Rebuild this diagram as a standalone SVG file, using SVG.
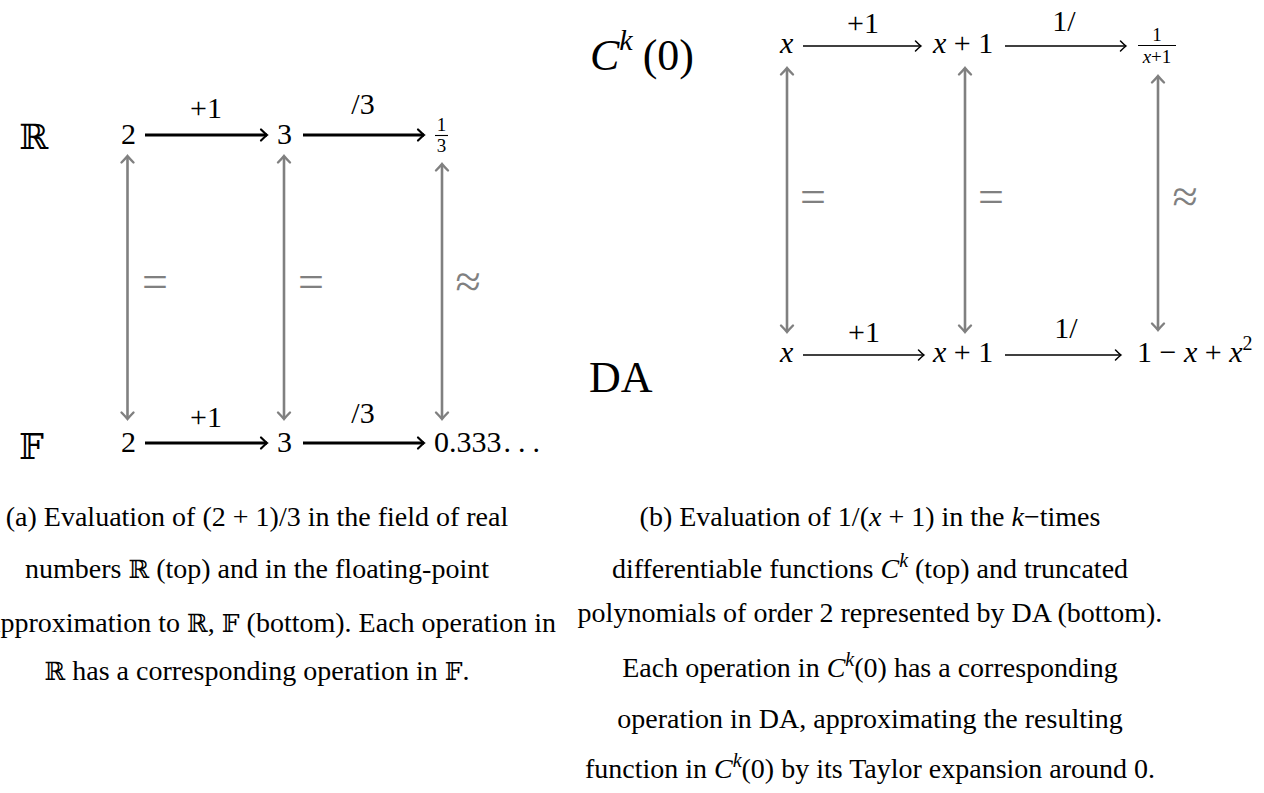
<svg xmlns="http://www.w3.org/2000/svg" width="1264" height="793" viewBox="0 0 1264 793">
<style>
text{font-family:"Liberation Serif","Times New Roman",serif;fill:#000}
.n{font-size:30px}
.lb{font-size:30px}
.fr{font-size:19px}
.it{font-style:italic}
.bb{font-family:"DejaVu Serif","DejaVu Sans",serif}
.g{fill:#808080;font-size:46px}
.cap{font-size:28px}
.big{font-size:44px}
.ka{stroke:#000;stroke-width:2.8;fill:none}
.kb{stroke:#000;stroke-width:1.7;fill:none}
.gv{stroke:#808080;stroke-width:2.6;fill:none}
.bar{stroke:#000;stroke-width:1.1}
</style>
<defs>
<marker id="mA" markerUnits="userSpaceOnUse" viewBox="-10 -10 12 20" refX="0" refY="0" markerWidth="12" markerHeight="20" orient="auto-start-reverse" overflow="visible">
<path d="M-6,-5.5 Q-2,-1.6 0,0 Q-2,1.6 -6,5.5" fill="none" stroke="#000" stroke-width="2.2" stroke-linecap="round"/>
</marker>
<marker id="mB" markerUnits="userSpaceOnUse" viewBox="-10 -10 12 20" refX="0" refY="0" markerWidth="12" markerHeight="20" orient="auto-start-reverse" overflow="visible">
<path d="M-5.5,-5 Q-2,-1.4 0,0 Q-2,1.4 -5.5,5" fill="none" stroke="#000" stroke-width="1.5" stroke-linecap="round"/>
</marker>
<marker id="mG" markerUnits="userSpaceOnUse" viewBox="-10 -10 12 20" refX="0" refY="0" markerWidth="12" markerHeight="20" orient="auto-start-reverse" overflow="visible">
<path d="M-6.5,-6 Q-2.2,-1.8 0,0 Q-2.2,1.8 -6.5,6" fill="none" stroke="#808080" stroke-width="2.4" stroke-linecap="round"/>
</marker>
</defs>
<rect width="1264" height="793" fill="#fff"/>

<!-- connectors -->
<g id="connectors">
<line class="ka" x1="145" y1="135" x2="267" y2="135" marker-end="url(#mA)"/>
<line class="ka" x1="303" y1="135" x2="424" y2="135" marker-end="url(#mA)"/>
<line class="ka" x1="145" y1="443" x2="267" y2="443" marker-end="url(#mA)"/>
<line class="ka" x1="303" y1="443" x2="424" y2="443" marker-end="url(#mA)"/>
<line class="gv" x1="127.5" y1="156" x2="127.5" y2="419" marker-start="url(#mG)" marker-end="url(#mG)"/>
<line class="gv" x1="284" y1="156" x2="284" y2="419" marker-start="url(#mG)" marker-end="url(#mG)"/>
<line class="gv" x1="442" y1="164" x2="442" y2="419" marker-start="url(#mG)" marker-end="url(#mG)"/>

<line class="kb" x1="803" y1="46" x2="921" y2="46" marker-end="url(#mB)"/>
<line class="kb" x1="1005" y1="46" x2="1126" y2="46" marker-end="url(#mB)"/>
<line class="kb" x1="803" y1="355" x2="924" y2="355" marker-end="url(#mB)"/>
<line class="kb" x1="1005" y1="355" x2="1121" y2="355" marker-end="url(#mB)"/>
<line class="gv" x1="787" y1="68" x2="787" y2="332" marker-start="url(#mG)" marker-end="url(#mG)"/>
<line class="gv" x1="965" y1="68" x2="965" y2="332" marker-start="url(#mG)" marker-end="url(#mG)"/>
<line class="gv" x1="1158" y1="76" x2="1158" y2="330" marker-start="url(#mG)" marker-end="url(#mG)"/>
</g>

<!-- left diagram -->
<g id="R-label"><text class="bb" x="19" y="149" font-size="35">ℝ</text></g>
<g id="F-label"><text class="bb" x="19" y="459" font-size="35">𝔽</text></g>
<g id="a-2top"><text class="n" x="121" y="144">2</text></g>
<g id="a-3top"><text class="n" x="277" y="144">3</text></g>
<g id="a-third"><text class="fr" x="441.5" y="131" text-anchor="middle">1</text><line class="bar" x1="435" y1="135.5" x2="448" y2="135.5"/><text class="fr" x="441.5" y="152" text-anchor="middle">3</text></g>
<g id="a-2bot"><text class="n" x="121" y="452">2</text></g>
<g id="a-3bot"><text class="n" x="277" y="452">3</text></g>
<g id="a-0333"><text class="n" x="434" y="452">0.333<tspan dx="2" letter-spacing="7">...</tspan></text></g>
<g id="a-lab1"><text class="lb" x="206" y="118" text-anchor="middle">+1</text></g>
<g id="a-lab2"><text class="lb" x="363" y="114" text-anchor="middle">/3</text></g>
<g id="a-lab3"><text class="lb" x="206" y="427" text-anchor="middle">+1</text></g>
<g id="a-lab4"><text class="lb" x="363" y="423" text-anchor="middle">/3</text></g>
<g id="a-eq1"><text class="g" x="155" y="297" text-anchor="middle">=</text></g>
<g id="a-eq2"><text class="g" x="311" y="297" text-anchor="middle">=</text></g>
<g id="a-approx"><text class="g" x="468" y="297" text-anchor="middle">≈</text></g>

<!-- right diagram -->
<g id="Ck-label"><text class="big" x="590" y="70"><tspan class="it">C</tspan><tspan class="it" font-size="30" dy="-20">k</tspan><tspan dy="20" dx="10">(0)</tspan></text></g>
<g id="DA-label"><text class="big" x="589" y="392" font-size="50">DA</text></g>
<g id="b-xtop"><text class="n it" x="780" y="53">x</text></g>
<g id="b-x1top"><text class="n" x="933" y="53"><tspan class="it">x</tspan> + 1</text></g>
<g id="b-frac"><text class="fr" x="1157" y="41" text-anchor="middle">1</text><line class="bar" x1="1138" y1="45.5" x2="1176" y2="45.5"/><text class="fr" x="1157" y="63" text-anchor="middle"><tspan class="it">x</tspan>+1</text></g>
<g id="b-xbot"><text class="n it" x="780" y="362">x</text></g>
<g id="b-x1bot"><text class="n" x="933" y="362"><tspan class="it">x</tspan> + 1</text></g>
<g id="b-poly"><text class="n" x="1137" y="362">1 − <tspan class="it">x</tspan> + <tspan class="it">x</tspan><tspan font-size="20" dy="-12">2</tspan></text></g>
<g id="b-lab1"><text class="lb" x="863" y="33" text-anchor="middle">+1</text></g>
<g id="b-lab2"><text class="lb" x="1064" y="31" text-anchor="middle">1/</text></g>
<g id="b-lab3"><text class="lb" x="864" y="342" text-anchor="middle">+1</text></g>
<g id="b-lab4"><text class="lb" x="1066" y="338" text-anchor="middle">1/</text></g>
<g id="b-eq1"><text class="g" x="813" y="212" text-anchor="middle">=</text></g>
<g id="b-eq2"><text class="g" x="991" y="212" text-anchor="middle">=</text></g>
<g id="b-approx"><text class="g" x="1185" y="212" text-anchor="middle">≈</text></g>

<!-- captions -->
<g id="caption-a">
<text class="cap" x="257" y="526" text-anchor="middle">(a) Evaluation of (2 + 1)/3 in the field of real</text>
<text class="cap" x="257" y="578" text-anchor="middle">numbers <tspan class="bb" font-size="25">ℝ</tspan> (top) and in the floating-point</text>
<text class="cap" x="-12" y="632">approximation to <tspan class="bb" font-size="25">ℝ</tspan>, <tspan class="bb" font-size="25">𝔽</tspan> (bottom). Each operation in</text>
<text class="cap" x="257" y="680" text-anchor="middle"><tspan class="bb" font-size="25">ℝ</tspan> has a corresponding operation in <tspan class="bb" font-size="25">𝔽</tspan>.</text>
</g>
<g id="caption-b">
<text class="cap" x="870" y="526" text-anchor="middle">(b) Evaluation of 1/(<tspan class="it">x</tspan> + 1) in the <tspan class="it">k</tspan>−times</text>
<text class="cap" x="870" y="578" text-anchor="middle">differentiable functions <tspan class="it">C</tspan><tspan class="it" font-size="20" dy="-11">k</tspan><tspan dy="11"> (top) and truncated</tspan></text>
<text class="cap" x="870" y="622" text-anchor="middle">polynomials of order 2 represented by DA (bottom).</text>
<text class="cap" x="870" y="677" text-anchor="middle">Each operation in <tspan class="it">C</tspan><tspan class="it" font-size="20" dy="-11">k</tspan><tspan dy="11">(0) has a corresponding</tspan></text>
<text class="cap" x="870" y="728" text-anchor="middle">operation in DA, approximating the resulting</text>
<text class="cap" x="870" y="778" text-anchor="middle">function in <tspan class="it">C</tspan><tspan class="it" font-size="20" dy="-11">k</tspan><tspan dy="11">(0) by its Taylor expansion around 0.</tspan></text>
</g>
</svg>
